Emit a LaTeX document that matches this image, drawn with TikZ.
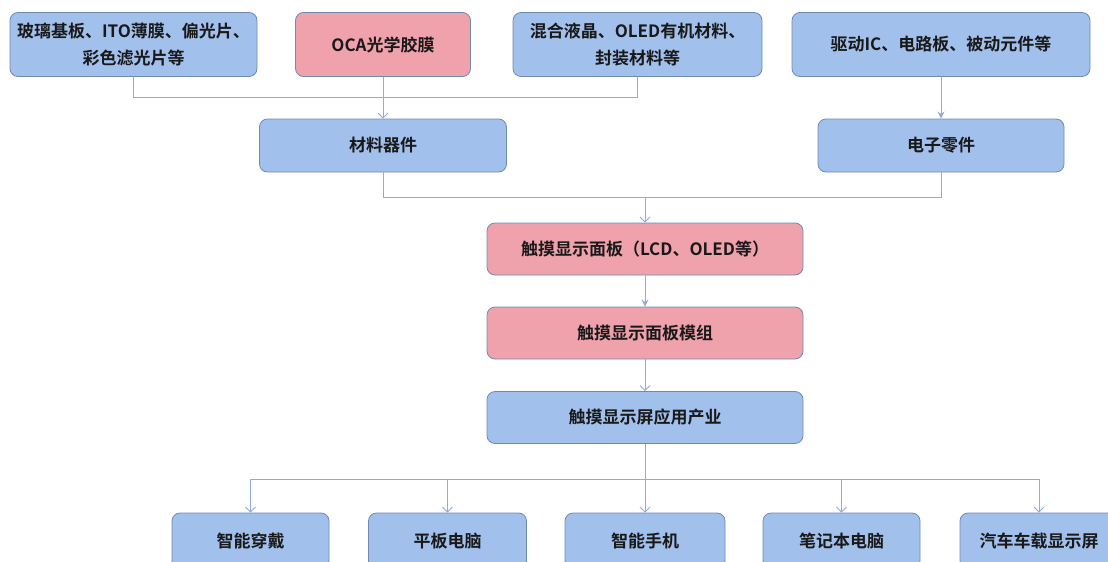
\documentclass[tikz,border=0pt]{standalone}
\usepackage{fontspec}
\setmainfont{Noto Sans CJK SC}[BoldFont={Noto Sans CJK SC Bold}]
\usetikzlibrary{arrows.meta}
\definecolor{bfill}{RGB}{162,192,236}
\definecolor{pfill}{RGB}{240,162,172}
\definecolor{bdr}{RGB}{112,138,178}
\definecolor{lc}{RGB}{143,172,218}
\tikzset{
  box/.style={draw=bdr, line width=0.8pt, rounded corners=8pt, inner sep=0pt, align=center,
    font=\bfseries\fontsize{17}{27}\selectfont, text=black!90},
  bluebox/.style={box, fill=bfill},
  pinkbox/.style={box, fill=pfill},
  ln/.style={draw=lc, line width=0.8pt},
  openarr/.style={ln, -{Straight Barb[length=5pt,width=10pt]}},
  fillarr/.style={ln, -{Stealth[length=7pt,width=7pt]}}
}
\begin{document}
\begin{tikzpicture}[x=1pt,y=-1pt]
\clip (0,0) rectangle (1108,562);
\fill[white] (0,0) rectangle (1108,562);
% top row
\node[bluebox, minimum width=247pt, minimum height=64pt] (m1) at (133.5,44.5) {玻璃基板、ITO薄膜、偏光片、\\彩色滤光片等};
\node[pinkbox, minimum width=175pt, minimum height=64pt] (m2) at (383,44.5) {OCA光学胶膜};
\node[bluebox, minimum width=249pt, minimum height=64pt] (m3) at (637.5,44.5) {混合液晶、OLED有机材料、\\封装材料等};
\node[bluebox, minimum width=298pt, minimum height=64pt] (m4) at (941,44.5) {驱动IC、电路板、被动元件等};
% second row
\node[bluebox, minimum width=247pt, minimum height=53pt] (cl) at (383,145.5) {材料器件};
\node[bluebox, minimum width=246pt, minimum height=53pt] (ce) at (941,145.5) {电子零件};
% middle column
\node[pinkbox, minimum width=316pt, minimum height=52pt] (panel) at (645,249) {触摸显示面板（LCD、OLED等）};
\node[pinkbox, minimum width=316pt, minimum height=52pt] (module) at (645,333) {触摸显示面板模组};
\node[bluebox, minimum width=316pt, minimum height=52pt] (app) at (645,417.5) {触摸显示屏应用产业};
% bottom row
\node[bluebox, minimum width=157pt, minimum height=56pt] (b1) at (250.5,541) {智能穿戴};
\node[bluebox, minimum width=158pt, minimum height=56pt] (b2) at (447.5,541) {平板电脑};
\node[bluebox, minimum width=160pt, minimum height=56pt] (b3) at (645,541) {智能手机};
\node[bluebox, minimum width=157pt, minimum height=56pt] (b4) at (841.5,541) {笔记本电脑};
\node[bluebox, minimum width=158pt, minimum height=56pt] (b5) at (1039,541) {汽车车载显示屏};
% junction coordinates
\coordinate (h1) at (383,97);
\coordinate (h2) at (645,197);
\coordinate (h3) at (645,479);
% connectors top
\draw[ln] (m1.south) -- (m1.south |- h1) -- (m3.south |- h1) -- (m3.south);
\draw[openarr] (m2.south) -- (cl.north);
\draw[fillarr] (m4.south) -- (ce.north);
% second row to panel
\draw[ln] (cl.south) -- (cl.south |- h2) -- (ce.south |- h2) -- (ce.south);
\draw[openarr] (h2) -- (panel.north);
\draw[fillarr] (panel.south) -- (module.north);
\draw[openarr] (module.south) -- (app.north);
% bottom fan-out
\draw[ln] (app.south) -- (h3);
\draw[ln] (b1.north |- h3) -- (b5.north |- h3);
\foreach \b in {b1,b2,b3,b4,b5} {
  \draw[openarr] (\b.north |- h3) -- (\b.north);
}
\end{tikzpicture}
\end{document}
